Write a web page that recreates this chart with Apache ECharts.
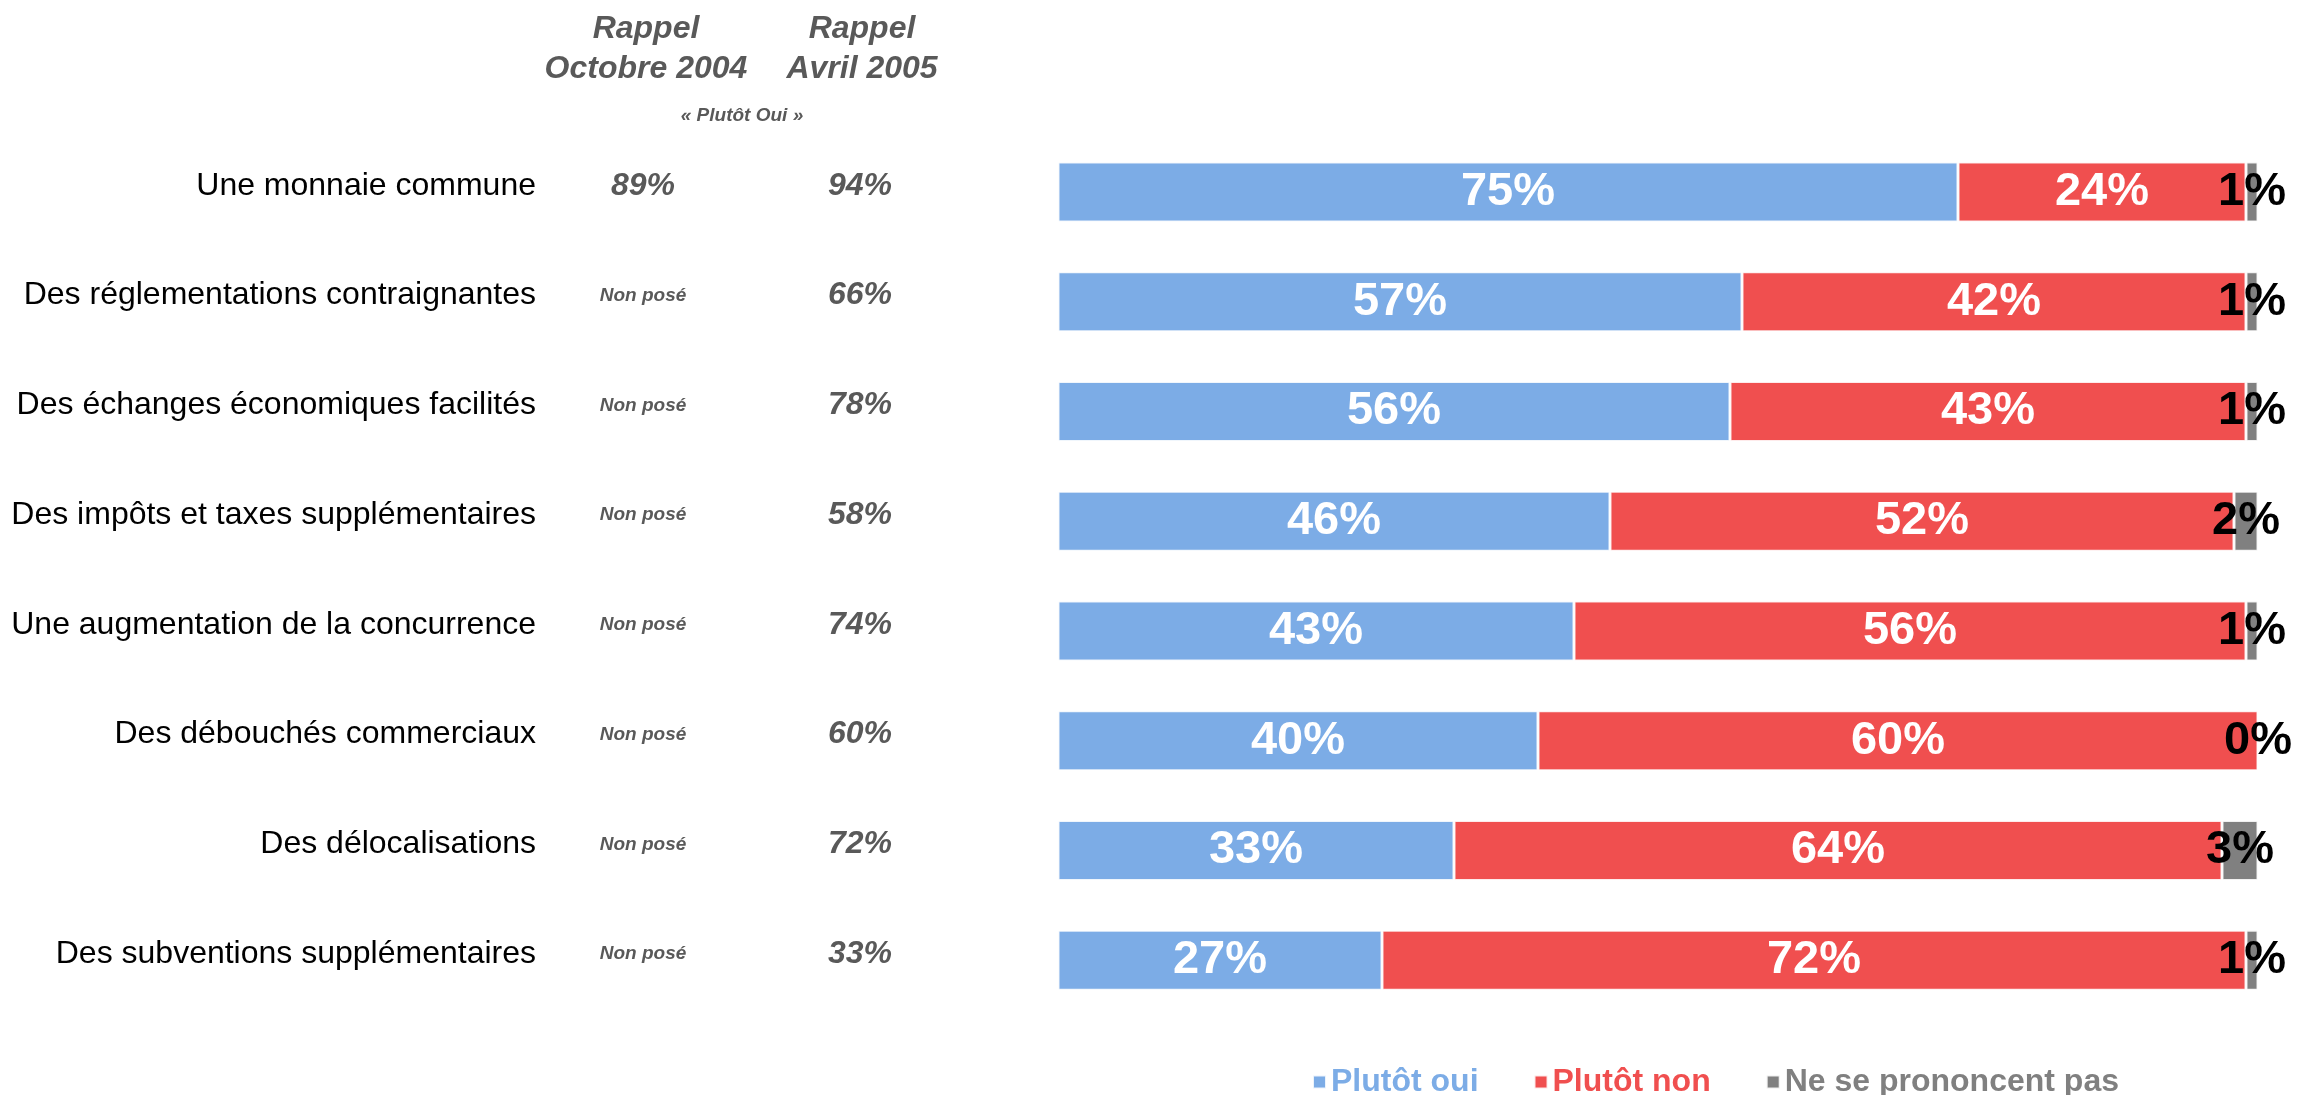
<!DOCTYPE html>
<html>
<head>
<meta charset="utf-8">
<script src="https://cdn.jsdelivr.net/npm/echarts@6/dist/echarts.min.js"></script>
<style>
  html, body { margin: 0; padding: 0; background: #fff; }
  #chart { width: 2297px; height: 1095px; }
</style>
</head>
<body>
<div id="chart"></div>
<script>
// Items asked about
const categories = [
  'Une monnaie commune',
  'Des réglementations contraignantes',
  'Des échanges économiques facilités',
  'Des impôts et taxes supplémentaires',
  'Une augmentation de la concurrence',
  'Des débouchés commerciaux',
  'Des délocalisations',
  'Des subventions supplémentaires'
];
// Current answers (%)
const plutotOui = [75, 57, 56, 46, 43, 40, 33, 27];
const plutotNon = [24, 42, 43, 52, 56, 60, 64, 72];
const nspp      = [1, 1, 1, 2, 1, 0, 3, 1];
// Earlier "Plutôt oui" results
const rappelOct2004 = ['89%', 'Non posé', 'Non posé', 'Non posé', 'Non posé', 'Non posé', 'Non posé', 'Non posé'];
const rappelAvr2005 = ['94%', '66%', '78%', '58%', '74%', '60%', '72%', '33%'];

const seriesNames = ['Plutôt oui', 'Plutôt non', 'Ne se prononcent pas'];
const COLORS = ['#7CACE6', '#F04F4F', '#808080'];

const FONT = '"Liberation Sans", Arial, Helvetica, sans-serif';
const GREY_TXT = '#595959';

const chart = echarts.init(document.getElementById('chart'), null, { renderer: 'canvas' });

function recallAxis(data, margin) {
  return {
    type: 'category',
    data: data,
    inverse: true,
    position: 'left',
    axisLine: { show: false },
    axisTick: { show: false },
    splitLine: { show: false },
    axisLabel: {
      margin: margin,
      align: 'center',
      padding: [0, 0, 12, 0],
      formatter: v => /%$/.test(v) ? '{p|' + v + '}' : '{n|' + v + '}',
      rich: {
        p: { fontFamily: FONT, fontWeight: 'bold', fontStyle: 'italic', fontSize: 32, color: GREY_TXT },
        n: { fontFamily: FONT, fontWeight: 'bold', fontStyle: 'italic', fontSize: 19, color: GREY_TXT }
      }
    }
  };
}

const barLabel = (color) => ({
  show: true,
  position: 'inside',
  formatter: '{c}%',
  fontFamily: FONT,
  fontWeight: 'bold',
  fontSize: 47,
  color: color
});

const barStyle = (color) => ({
  color: color,
  borderColor: 'rgba(255,255,255,0.85)',
  borderWidth: 1.5
});

const option = {
  backgroundColor: '#fff',
  animation: false,
  grid: { left: 1058, right: 39, top: 137, bottom: 80, containLabel: false, outerBoundsMode: 'none' },
  xAxis: { type: 'value', min: 0, max: 100, show: false },
  yAxis: [
    {
      type: 'category',
      data: categories,
      inverse: true,
      axisLine: { show: false },
      axisTick: { show: false },
      axisLabel: {
        margin: 522,
        verticalAlign: 'bottom',
        lineHeight: 12,
        fontFamily: FONT,
        fontSize: 32,
        color: '#000'
      }
    },
    recallAxis(rappelOct2004, 415),
    recallAxis(rappelAvr2005, 198)
  ],
  legend: {
    left: 1307,
    top: 1061,
    icon: 'rect',
    itemWidth: 13,
    itemHeight: 13,
    itemGap: 55,
    selectedMode: false,
    textStyle: { fontFamily: FONT, fontWeight: 'bold', fontSize: 32 },
    data: seriesNames.map((n, i) => ({
      name: n,
      textStyle: i === 1 ? { color: COLORS[i], width: 166 } : { color: COLORS[i] }
    }))
  },
  graphic: [
    {
      type: 'text',
      style: {
        x: 646, y: 49, text: 'Rappel\nOctobre 2004', align: 'center', verticalAlign: 'middle',
        font: 'italic bold 32px ' + FONT, fill: GREY_TXT, lineHeight: 40
      }
    },
    {
      type: 'text',
      style: {
        x: 862, y: 49, text: 'Rappel\nAvril 2005', align: 'center', verticalAlign: 'middle',
        font: 'italic bold 32px ' + FONT, fill: GREY_TXT, lineHeight: 40
      }
    },
    {
      type: 'text',
      style: {
        x: 742, y: 116, text: '« Plutôt Oui »', align: 'center', verticalAlign: 'middle',
        font: 'italic bold 19px ' + FONT, fill: GREY_TXT
      }
    }
  ],
  series: [
    { name: seriesNames[0], type: 'bar', stack: 'total', barWidth: 60, data: plutotOui,
      itemStyle: barStyle(COLORS[0]), label: barLabel('#fff') },
    { name: seriesNames[1], type: 'bar', stack: 'total', barWidth: 60, data: plutotNon,
      itemStyle: barStyle(COLORS[1]), label: barLabel('#fff') },
    { name: seriesNames[2], type: 'bar', stack: 'total', barWidth: 60, data: nspp,
      itemStyle: barStyle(COLORS[2]), label: barLabel('#000') }
  ]
};

chart.setOption(option);
</script>
</body>
</html>
